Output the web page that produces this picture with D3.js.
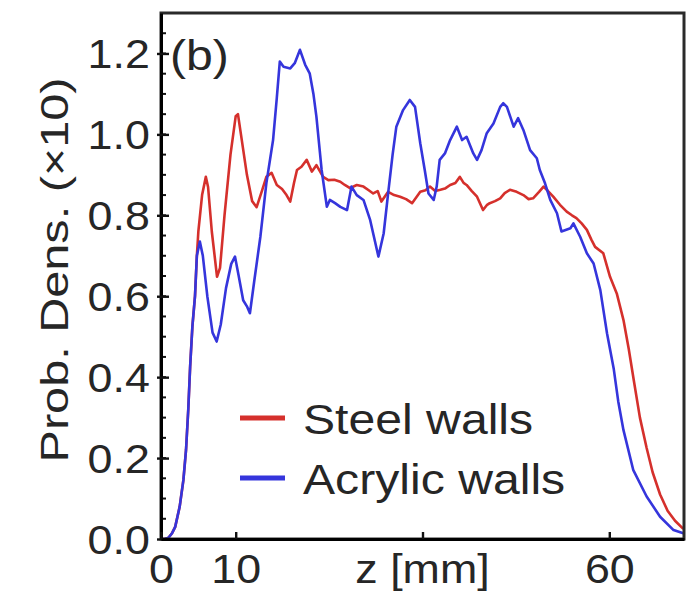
<!DOCTYPE html>
<html lang="en">
<head>
  <meta charset="UTF-8">
  <title>Prob. Dens. vs z</title>
  <script src="https://d3js.org/d3.v7.min.js"></script>
  <style>
    body { margin: 0; background: #fff; }
    text { font-family: "Liberation Sans", Arial, sans-serif; fill: #262626; }
  </style>
</head>
<body>
<script>
  // Steel walls (red)
  const steelZ = [0, 0.5, 1.0, 1.5, 1.9, 2.5, 3.0, 3.35, 3.65, 3.9, 4.2, 4.55, 4.8,
    5.0, 5.5, 6.0, 6.3, 6.8, 7.5, 7.9, 8.5, 9.3, 10.0, 10.3, 10.7, 11.5, 12.2, 12.8,
    13.5, 14.1, 14.8, 15.5, 16.2, 16.8, 17.3, 17.8, 18.2, 18.8, 19.5, 20.2, 20.8,
    21.7, 22.4, 23.2, 24.0, 24.6, 25.3, 26.2, 27.1, 27.8, 28.4, 29.0, 29.5, 30.4,
    31.2, 32.0, 32.8, 33.6, 34.2, 34.7, 35.4, 36.0, 36.7, 37.4, 38.0, 38.7, 39.4,
    40.0, 40.5, 40.9, 41.6, 42.3, 43.1, 43.6, 44.0, 44.7, 45.4, 46.0, 46.7, 47.6,
    48.5, 49.2, 49.8, 50.6, 51.2, 51.8, 52.5, 53.4, 54.3, 55.0, 55.6, 56.3, 57.0,
    57.6, 58.1, 59.2, 60.1, 61.0, 61.9, 62.6, 63.3, 64.1, 65.0, 65.8, 66.8, 67.8,
    68.8, 69.9];
  const steelP = [0, 0, 0.003, 0.015, 0.03, 0.08, 0.146, 0.22, 0.32, 0.426, 0.525, 0.6, 0.7,
    0.76, 0.85, 0.895, 0.87, 0.76, 0.648, 0.67, 0.8, 0.95, 1.045, 1.05, 1.0, 0.9, 0.835, 0.82,
    0.86, 0.895, 0.905, 0.875, 0.865, 0.85, 0.834, 0.88, 0.912, 0.92, 0.937, 0.908, 0.924,
    0.895, 0.887, 0.888, 0.883, 0.875, 0.867, 0.875, 0.871, 0.862, 0.854, 0.86, 0.834, 0.858,
    0.85, 0.846, 0.84, 0.83, 0.845, 0.858, 0.862, 0.871, 0.86, 0.863, 0.866, 0.875, 0.88,
    0.895, 0.88, 0.875, 0.86, 0.846, 0.813, 0.825, 0.83, 0.835, 0.842, 0.855, 0.863, 0.858,
    0.85, 0.84, 0.842, 0.858, 0.871, 0.86, 0.846, 0.826, 0.809, 0.8, 0.793, 0.78, 0.764,
    0.74, 0.722, 0.706, 0.648, 0.607, 0.541, 0.47, 0.39, 0.3, 0.225, 0.165, 0.11, 0.07,
    0.045, 0.025];

  // Acrylic walls (blue)
  const acrylicZ = [0, 0.5, 1.0, 1.5, 1.9, 2.5, 3.0, 3.35, 3.65, 3.9, 4.2, 4.55, 4.8,
    5.2, 5.6, 6.2, 6.9, 7.45, 8.0, 8.7, 9.4, 9.9, 10.4, 11.0, 11.5, 11.9, 12.5, 13.3,
    14.1, 15.0, 15.5, 15.9, 16.4, 17.3, 17.9, 18.6, 19.3, 19.9, 20.4, 20.8, 21.5, 22.2,
    22.6, 23.3, 24.0, 24.9, 25.5, 26.2, 27.1, 28.0, 28.4, 29.1, 29.8, 30.4, 31.0, 31.5,
    32.4, 33.3, 34.0, 34.7, 35.3, 35.8, 36.5, 36.9, 37.3, 38.0, 38.7, 39.6, 40.3, 40.9,
    41.8, 42.3, 42.9, 43.6, 44.5, 45.4, 45.8, 46.3, 47.2, 47.8, 48.5, 49.4, 50.3, 50.7,
    51.4, 52.1, 53.0, 53.6, 54.8, 55.2, 56.1, 57.0, 57.9, 58.8, 59.7, 60.6, 61.2, 61.9,
    63.2, 65.0, 66.8, 68.6, 69.9];
  const acrylicP = [0, 0, 0.003, 0.015, 0.03, 0.08, 0.146, 0.22, 0.32, 0.426, 0.525, 0.6, 0.7,
    0.735, 0.7, 0.6, 0.51, 0.488, 0.53, 0.62, 0.68, 0.698, 0.65, 0.59, 0.575, 0.558, 0.64, 0.747,
    0.879, 0.986, 1.09, 1.18, 1.167, 1.163, 1.176, 1.209, 1.172, 1.151, 1.1, 1.044, 0.912, 0.821,
    0.838, 0.83, 0.821, 0.813, 0.871, 0.85, 0.838, 0.788, 0.755, 0.698, 0.755, 0.854, 0.95, 1.019,
    1.06, 1.085, 1.068, 0.978, 0.912, 0.854, 0.838, 0.871, 0.937, 0.953, 0.986, 1.019, 0.986, 0.994,
    0.953, 0.937, 0.961, 1.003, 1.027, 1.068, 1.077, 1.068, 1.019, 1.04, 1.011, 0.961, 0.941, 0.912,
    0.879, 0.838, 0.805, 0.76, 0.768, 0.78, 0.747, 0.706, 0.681, 0.615, 0.508, 0.42, 0.34, 0.269,
    0.171, 0.105, 0.055, 0.022, 0.014];

  const xTicks = [0, 10, 35, 60];
  const xTickLabels = ["0", "10", "", "60"];
  const yTicks = [0, 0.2, 0.4, 0.6, 0.8, 1.0, 1.2];
  const yMinor = d3.range(0, 1.26, 0.05);
  const seriesNames = ["Steel walls", "Acrylic walls"];
  const seriesColors = ["#d5302c", "#3535dc"];

  const width = 695, height = 597;
  const plotLeft = 161, plotRight = 684, plotTop = 13, plotBottom = 539;
  const stretch = 1.12; // the fonts in the figure are a bit wider than Arial

  const svg = d3.select("body").append("svg")
    .attr("width", width)
    .attr("height", height);

  const x = d3.scaleLinear().domain([0, 70]).range([plotLeft, plotRight]);
  const y = d3.scaleLinear().domain([0, 1.3]).range([plotBottom, plotTop]);

  // curves
  const line = d3.line().x(d => x(d[0])).y(d => y(d[1]));
  const series = [
    d3.zip(steelZ, steelP),
    d3.zip(acrylicZ, acrylicP)
  ];
  svg.append("g")
    .selectAll("path")
    .data(series)
    .enter().append("path")
    .attr("d", line)
    .attr("fill", "none")
    .attr("stroke", (d, i) => seriesColors[i])
    .attr("stroke-width", 2.6)
    .attr("stroke-linejoin", "round");

  // frame
  svg.append("rect")
    .attr("x", plotLeft).attr("y", plotTop)
    .attr("width", plotRight - plotLeft).attr("height", plotBottom - plotTop)
    .attr("fill", "none")
    .attr("stroke", "#2a2a2a")
    .attr("stroke-width", 3);

  // minor y ticks (inside)
  svg.append("g")
    .selectAll("line")
    .data(yMinor)
    .enter().append("line")
    .attr("x1", plotLeft).attr("x2", plotLeft + 5)
    .attr("y1", d => y(d)).attr("y2", d => y(d))
    .attr("stroke", "#111").attr("stroke-width", 2);

  // y axis
  const yAxis = svg.append("g")
    .attr("transform", `translate(${plotLeft},0)`)
    .call(d3.axisLeft(y).tickValues(yTicks).tickFormat(d3.format(".1f")).tickSizeInner(-8).tickSizeOuter(0).tickPadding(11));
  yAxis.select(".domain").attr("stroke", "#000").attr("stroke-width", 3);
  yAxis.selectAll(".tick line").attr("x1", -4).attr("x2", 8).attr("stroke", "#111").attr("stroke-width", 2.4);
  yAxis.selectAll(".tick text")
    .attr("font-size", 40)
    .attr("fill", "#262626")
    .attr("x", -10)
    .attr("transform", `scale(${stretch},1)`)
    .attr("dy", "0.36em");

  // x axis
  const xAxis = svg.append("g")
    .attr("transform", `translate(0,${plotBottom})`)
    .call(d3.axisBottom(x).tickValues(xTicks).tickFormat((d, i) => xTickLabels[i]).tickSizeInner(-7).tickSizeOuter(0).tickPadding(14));
  xAxis.select(".domain").attr("stroke", "#000").attr("stroke-width", 3);
  xAxis.selectAll(".tick line").attr("stroke", "#111").attr("stroke-width", 2.4);
  xAxis.selectAll(".tick text")
    .attr("font-size", 40)
    .attr("fill", "#262626")
    .attr("y", 0)
    .attr("dy", null)
    .attr("transform", `translate(0,44) scale(${stretch},1)`);

  // axis titles
  svg.append("text")
    .attr("transform", `translate(${x(35)},583) scale(${stretch},1)`)
    .attr("text-anchor", "middle")
    .attr("font-size", 40)
    .text("z [mm]");

  svg.append("text")
    .attr("transform", "translate(68,270) rotate(-90)")
    .attr("text-anchor", "middle")
    .attr("font-size", 38)
    .attr("textLength", 385)
    .attr("lengthAdjust", "spacingAndGlyphs")
    .text("Prob. Dens. (×10)");

  // panel label
  svg.append("text")
    .attr("transform", `translate(170,70) scale(${stretch},1)`)
    .attr("font-size", 43)
    .text("(b)");

  // legend
  const legend = svg.append("g")
    .selectAll("g")
    .data(seriesNames)
    .enter().append("g")
    .attr("transform", (d, i) => `translate(240,${418 + i * 60})`);
  legend.append("line")
    .attr("x1", 0).attr("x2", 45)
    .attr("stroke", (d, i) => seriesColors[i])
    .attr("stroke-width", 5);
  legend.append("text")
    .attr("transform", `translate(63,16) scale(${stretch},1)`)
    .attr("font-size", 43)
    .text(d => d);
</script>
</body>
</html>
